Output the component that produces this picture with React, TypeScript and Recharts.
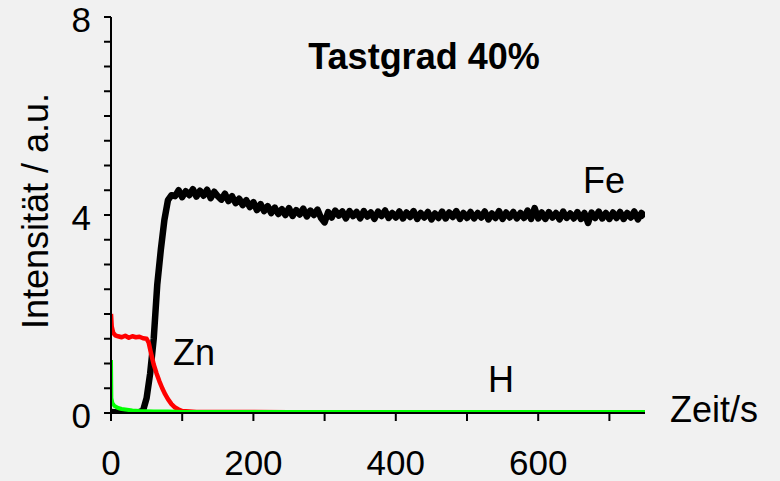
import { LineChart, Line, XAxis, YAxis } from 'recharts';

// Tastgrad 40% – GDOES depth profile (Fe, Zn, H)

const feTime = [
  0, 10, 20, 30, 40, 45, 50, 55, 60, 65, 70, 75, 80, 85,
  90, 95, 100, 105, 110, 115, 120, 125, 130, 135, 140, 145, 150,
  155, 160, 165, 170, 175, 180, 185, 190, 195, 200, 205, 210, 215,
  220, 225, 230, 235, 240, 245, 250, 255, 260, 265, 270, 275, 280, 285, 290, 295, 300,
  305, 310, 315, 320, 325, 330, 335, 340, 345, 350, 355, 360, 365, 370, 375, 380, 385, 390, 395, 400,
  405, 410, 415, 420, 425, 430, 435, 440, 445, 450, 455, 460, 465, 470, 475, 480, 485, 490, 495, 500,
  505, 510, 515, 520, 525, 530, 535, 540, 545, 550, 555, 560, 565, 570, 575, 580, 585, 590, 595, 600,
  605, 610, 615, 620, 625, 630, 635, 640, 645, 650, 655, 660, 665, 670, 675, 680, 685, 690, 695, 700,
  705, 710, 715, 720, 725, 730, 735, 740, 745, 750,
];
const feValue = [
  0.02, 0.01, 0.02, 0.01, 0.02, 0.05, 0.3, 0.8, 1.5, 2.6, 3.3, 3.9, 4.3, 4.4,
  4.38, 4.50, 4.36, 4.48, 4.40, 4.52, 4.37, 4.49, 4.39, 4.51, 4.34, 4.47, 4.38,
  4.31, 4.43, 4.28, 4.38, 4.24, 4.33, 4.20, 4.30, 4.16, 4.26, 4.10, 4.22, 4.08,
  4.18, 4.04, 4.15, 4.02, 4.12, 4.00, 4.14, 3.98, 4.10, 4.01, 4.13, 3.97, 4.09, 4.00, 4.11, 3.94, 3.85,
  4.06, 3.95, 4.09, 3.99, 4.07, 3.93, 4.08, 3.98, 4.06, 3.93, 4.08, 3.97, 4.05, 3.92, 4.07, 3.98, 4.09, 3.94, 4.04, 3.95,
  4.07, 3.93, 4.05, 3.96, 4.08, 3.92, 4.04, 3.95, 4.06, 3.91, 4.03, 3.94, 4.07, 3.93, 4.05, 3.96, 4.08, 3.92, 4.04, 3.94,
  4.06, 3.93, 4.04, 3.95, 4.07, 3.91, 4.03, 3.94, 4.08, 3.92, 4.05, 3.95, 4.06, 3.93, 4.04, 3.94, 4.09, 3.92, 4.14, 3.93,
  4.05, 3.92, 4.06, 3.95, 4.04, 3.91, 4.07, 3.94, 4.03, 3.93, 4.06, 3.92, 4.04, 3.84, 4.05, 3.94, 4.07, 3.93, 4.04, 3.92,
  4.05, 3.94, 4.06, 3.92, 4.04, 3.95, 4.07, 3.91, 4.04, 3.96,
];

const znTime = [
  0, 1, 3, 6, 10, 15, 20, 25, 30, 35, 40, 45, 50, 53, 56, 60, 64, 68, 72, 76,
  80, 85, 90, 95, 100, 110, 120, 150, 200, 300, 400, 500, 600, 700, 750,
];
const znValue = [
  2.0, 1.75, 1.62, 1.57, 1.55, 1.53, 1.56, 1.52, 1.55, 1.53, 1.54, 1.51, 1.5, 1.42, 1.22, 0.98, 0.8, 0.64, 0.5, 0.38,
  0.28, 0.18, 0.11, 0.07, 0.04, 0.03, 0.02, 0.02, 0.02, 0.01, 0.01, 0.01, 0.01, 0.01, 0.01,
];

const hTime = [0, 0.5, 2, 5, 10, 15, 20, 30, 40, 60, 80, 100, 150, 200, 300, 400, 500, 600, 700, 750];
const hValue = [1.07, 0.3, 0.2, 0.14, 0.1, 0.08, 0.07, 0.05, 0.04, 0.03, 0.03, 0.02, 0.02, 0.02, 0.02, 0.02, 0.02, 0.02, 0.02, 0.02];

const xTicks = [0, 100, 200, 300, 400, 500, 600, 700];
const yTicks = [0, 0.5, 1, 1.5, 2, 2.5, 3, 3.5, 4, 4.5, 5, 5.5, 6, 6.5, 7, 7.5, 8];

const toPoints = (t: number[], v: number[]) => t.map((time, i) => ({ t: time, v: v[i] }));

const feData = toPoints(feTime, feValue);
const znData = toPoints(znTime, znValue);
const hData = toPoints(hTime, hValue);

const FONT = '"Liberation Sans", Arial, sans-serif';

// tickSize/tickMargin are 0, so x/y here sit right on the axis line
const XTick = ({ x, y, payload }: any) => (
  <g>
    <line x1={x} y1={y} x2={x} y2={y + 8} stroke="#000" strokeWidth={2} />
    {payload.value % 200 === 0 && (
      <text x={x} y={y} dy={62} textAnchor="middle" fontSize={35} fontFamily={FONT} fill="#000">
        {payload.value}
      </text>
    )}
  </g>
);

const YTick = ({ x, y, payload }: any) => (
  <g>
    <line x1={x - 7} y1={y} x2={x} y2={y} stroke="#000" strokeWidth={2} />
    {payload.value % 4 === 0 && (
      <text x={x} y={y} dx={-20} dy={15} textAnchor="end" fontSize={35} fontFamily={FONT} fill="#000">
        {payload.value}
      </text>
    )}
  </g>
);

export default function App() {
  const axisStyle = { stroke: '#000', strokeWidth: 2 };

  return (
    <div style={{ position: 'fixed', left: 0, top: 0, width: 780, height: 481, background: '#f1f1f1' }}>
      <LineChart width={780} height={481} margin={{ top: 17, right: 135, bottom: 0, left: 0 }}>
        <XAxis
          dataKey="t"
          type="number"
          domain={[0, 750]}
          ticks={xTicks}
          interval={0}
          height={68}
          tickSize={0}
          tickMargin={0}
          axisLine={axisStyle}
          tickLine={false}
          tick={XTick}
          allowDataOverflow
        />
        <YAxis
          dataKey="v"
          type="number"
          domain={[0, 8]}
          ticks={yTicks}
          interval={0}
          width={111}
          tickSize={0}
          tickMargin={0}
          axisLine={axisStyle}
          tickLine={false}
          tick={YTick}
          allowDataOverflow
        />
        <Line data={feData} dataKey="v" stroke="#000" strokeWidth={6.5} dot={false} type="linear" strokeLinejoin="round" isAnimationActive={false} />
        <Line data={znData} dataKey="v" stroke="#ff0000" strokeWidth={4.5} dot={false} type="linear" strokeLinejoin="round" isAnimationActive={false} />
        <Line data={hData} dataKey="v" stroke="#00ff00" strokeWidth={4} dot={false} type="linear" strokeLinejoin="round" isAnimationActive={false} />
      </LineChart>
      <svg width={780} height={481} style={{ position: 'absolute', left: 0, top: 0, pointerEvents: 'none' }} fontFamily={FONT}>
        <text x={424} y={69} textAnchor="middle" fontSize={36} fontWeight="bold" fill="#000">Tastgrad 40%</text>
        <text x={583} y={193} fontSize={36} fill="#000">Fe</text>
        <text x={173} y={365} fontSize={36} fill="#000">Zn</text>
        <text x={488} y={392} fontSize={36} fill="#000">H</text>
        <text x={670} y={422} fontSize={36} fill="#000">Zeit/s</text>
        <text x={48} y={211} textAnchor="middle" fontSize={36} fill="#000" transform="rotate(-90, 48, 211)">
          Intensität / a.u.
        </text>
      </svg>
    </div>
  );
}
